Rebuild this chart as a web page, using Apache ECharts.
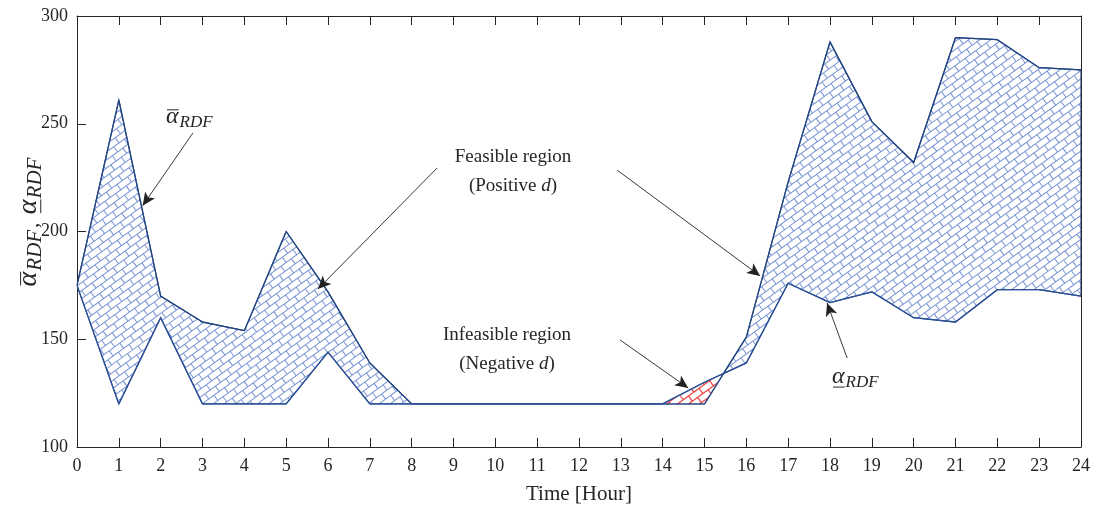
<!DOCTYPE html>
<html>
<head>
<meta charset="utf-8">
<script src="https://cdn.jsdelivr.net/npm/echarts@6/dist/echarts.min.js"></script>
<style>
  html, body { margin: 0; padding: 0; background: #fff; }
  #chart { width: 1097px; height: 515px; }
</style>
</head>
<body>
<div id="chart"></div>
<script>
// data
const hours = [0, 1, 2, 3, 4, 5, 6, 7, 8, 9, 10, 11, 12, 13, 14, 15, 16, 17, 18, 19, 20, 21, 22, 23, 24]
const upperVals = [175, 261, 170, 158, 154, 200, 172, 139, 120, 120, 120, 120, 120, 120, 120, 120, 151, 223, 288, 251, 232, 290, 289, 276, 275]
const lowerVals = [175, 120, 160, 120, 120, 120, 144, 120, 120, 120, 120, 120, 120, 120, 120, 130, 139, 176, 167, 172, 160, 158, 173, 173, 170]
const yTicks = [100, 150, 200, 250, 300]

const FONT = 'Liberation Serif'
const INK = '#262626'

// brick hatch, drawn once over the whole canvas
function makePattern(color, width) {
  const c = document.createElement('canvas')
  c.width = 1097
  c.height = 515
  const ctx = c.getContext('2d')
  ctx.fillStyle = '#fff'
  ctx.fillRect(0, 0, c.width, c.height)
  ctx.strokeStyle = color
  ctx.lineWidth = width
  ctx.translate(548, 257)
  ctx.rotate(-36 * Math.PI / 180)
  const h = 6.5, L = 13, R = 800
  ctx.beginPath()
  for (let r = -Math.ceil(R / h); r <= Math.ceil(R / h); r++) {
    const y = r * h
    ctx.moveTo(-R, y)
    ctx.lineTo(R, y)
    const off = (((r % 2) + 2) % 2) ? L / 2 : 0
    for (let x = -R + off; x < R; x += L) {
      ctx.moveTo(x, y)
      ctx.lineTo(x, y + h)
    }
  }
  ctx.stroke()
  return c
}
const bluePattern = { image: makePattern('#7792d4', 1), repeat: 'repeat' }
const redPattern = { image: makePattern('#f03c3c', 1.2), repeat: 'repeat' }

// runs where lower > upper (infeasible)
function infeasibleRuns() {
  const runs = []
  let run = null
  const lerp = (a, b, f) => a + (b - a) * f
  for (let i = 0; i < hours.length - 1; i++) {
    const d0 = upperVals[i] - lowerVals[i]
    const d1 = upperVals[i + 1] - lowerVals[i + 1]
    if (!(d0 < 0 || d1 < 0)) continue
    if (d0 >= 0) {
      const f = d0 / (d0 - d1)
      run = [{ x: lerp(hours[i], hours[i + 1], f), u: lerp(upperVals[i], upperVals[i + 1], f), l: lerp(lowerVals[i], lowerVals[i + 1], f) }]
    }
    if (d1 >= 0) {
      const f = d0 / (d0 - d1)
      run.push({ x: lerp(hours[i], hours[i + 1], f), u: lerp(upperVals[i], upperVals[i + 1], f), l: lerp(lowerVals[i], lowerVals[i + 1], f) })
      runs.push(run)
      run = null
    } else {
      run.push({ x: hours[i + 1], u: upperVals[i + 1], l: lowerVals[i + 1] })
    }
  }
  if (run) runs.push(run)
  return runs
}

function renderBand(params, api) {
  const children = []
  const pts = []
  for (let i = 0; i < hours.length; i++) pts.push(api.coord([hours[i], upperVals[i]]))
  for (let i = hours.length - 1; i >= 0; i--) pts.push(api.coord([hours[i], lowerVals[i]]))
  children.push({
    type: 'polygon',
    shape: { points: pts },
    style: { fill: bluePattern, stroke: '#2b5096', lineWidth: 1.2 }
  })
  infeasibleRuns().forEach(run => {
    const p = run.map(d => api.coord([d.x, d.u]))
    for (let k = run.length - 1; k >= 0; k--) p.push(api.coord([run[k].x, run[k].l]))
    children.push({ type: 'polygon', shape: { points: p }, style: { fill: redPattern, stroke: null } })
  })
  return { type: 'group', children }
}

// alpha with bar / underbar and RDF subscript
const measure = document.createElement('canvas').getContext('2d')
function textWidth(str, font) {
  measure.font = font
  return measure.measureText(str).width
}
function alphaParts(x, y, size, subSize, mark) {
  const fa = 'italic ' + size + 'px "' + FONT + '"'
  const fs = 'italic ' + subSize + 'px "' + FONT + '"'
  const wA = textWidth('α', fa)
  const wS = textWidth('RDF', fs)
  const parts = [
    { type: 'text', x: x, y: y, style: { text: 'α', font: fa, fill: INK, align: 'left', verticalAlign: 'middle' } },
    { type: 'text', x: x + wA + 1, y: y + size * 0.22, style: { text: 'RDF', font: fs, fill: INK, align: 'left', verticalAlign: 'middle' } }
  ]
  const ly = mark === 'bar' ? y - size * 0.3 : y + size * 0.42
  parts.push({ type: 'line', shape: { x1: x + 1, y1: ly, x2: x + wA, y2: ly }, style: { stroke: INK, lineWidth: 1 } })
  return { parts, width: wA + 1 + wS }
}

function yNameGroup() {
  const size = 28, sub = 21
  const a1 = alphaParts(0, 0, size, sub, 'bar')
  const cf = sub + 'px "' + FONT + '"'
  const comma = textWidth(',  ', cf)
  const a2 = alphaParts(a1.width + comma, 0, size, sub, 'under')
  const total = a1.width + comma + a2.width
  const children = [].concat(a1.parts, [
    { type: 'text', x: a1.width + 2, y: 3, style: { text: ',', font: cf, fill: INK, align: 'left', verticalAlign: 'middle' } }
  ], a2.parts)
  children.forEach(c => {
    if (c.type === 'line') { c.shape.x1 -= total / 2; c.shape.x2 -= total / 2 } else c.x -= total / 2
  })
  return { type: 'group', x: 29, y: 222, rotation: Math.PI / 2, children }
}

const chart = echarts.init(document.getElementById('chart'))

const axisCommon = {
  type: 'value',
  splitLine: { show: false },
  axisLine: { show: true, onZero: false, lineStyle: { color: INK, width: 1 } },
  axisTick: { show: true, inside: true, length: 9, lineStyle: { color: INK, width: 1 } },
  axisLabel: { color: INK, fontFamily: FONT, fontSize: 18 }
}

const label1 = alphaParts(166, 117, 24, 17, 'bar')
const label2 = alphaParts(832, 377, 24, 17, 'under')

const option = {
  animation: false,
  backgroundColor: '#fff',
  grid: { left: 77, right: 16, top: 16, bottom: 68 },
  xAxis: [
    Object.assign({}, axisCommon, {
      min: 0, max: 24, interval: 1, position: 'bottom',
      axisLabel: Object.assign({}, axisCommon.axisLabel, { margin: 10 }),
      name: 'Time [Hour]', nameLocation: 'middle', nameGap: 37,
      nameTextStyle: { color: INK, fontFamily: FONT, fontSize: 21 }
    }),
    Object.assign({}, axisCommon, {
      min: 0, max: 24, interval: 1, position: 'top',
      axisLabel: { show: false }
    })
  ],
  yAxis: [
    Object.assign({}, axisCommon, {
      min: yTicks[0], max: yTicks[yTicks.length - 1], interval: 50, position: 'left',
      axisLabel: Object.assign({}, axisCommon.axisLabel, { margin: 9 })
    }),
    Object.assign({}, axisCommon, {
      min: yTicks[0], max: yTicks[yTicks.length - 1], interval: 50, position: 'right',
      axisTick: { show: false }, axisLabel: { show: false }
    })
  ],
  series: [
    {
      type: 'custom',
      coordinateSystem: 'cartesian2d',
      renderItem: renderBand,
      data: [[0, 100]],
      silent: true,
      clip: true,
      z: 1
    },
    {
      name: 'upper',
      type: 'line',
      data: hours.map((h, i) => [h, upperVals[i]]),
      symbol: 'none',
      lineStyle: { color: '#23467f', width: 1.3 },
      z: 3,
      markLine: {
        silent: true,
        symbol: ['none', 'arrow'],
        symbolSize: [9, 13],
        label: { show: false },
        lineStyle: { type: 'solid', color: '#222', width: 0.9 },
        data: [
          [{ coord: [2.77, 245.7] }, { coord: [1.57, 212] }],
          [{ coord: [8.61, 229.5] }, { coord: [5.76, 173.3] }],
          [{ coord: [12.91, 228.5] }, { coord: [16.33, 179.4] }],
          [{ coord: [12.98, 149.7] }, { coord: [14.61, 127.4] }],
          [{ coord: [18.41, 141.3] }, { coord: [17.93, 166.8] }]
        ]
      }
    },
    {
      name: 'lower',
      type: 'line',
      data: hours.map((h, i) => [h, lowerVals[i]]),
      symbol: 'none',
      lineStyle: { color: '#2b5096', width: 1.3 },
      z: 3
    }
  ],
  graphic: [
    yNameGroup(),
    { type: 'group', children: label1.parts },
    { type: 'group', children: label2.parts },
    { type: 'text', x: 513, y: 157, style: { text: 'Feasible region', font: '19px "' + FONT + '"', fill: INK, align: 'center', verticalAlign: 'middle' } },
    { type: 'text', x: 513, y: 186, style: { text: '{n|(Positive }{i|d}{n|)}', rich: { n: { font: '19px "' + FONT + '"', fill: INK }, i: { font: 'italic 19px "' + FONT + '"', fill: INK } }, align: 'center', verticalAlign: 'middle' } },
    { type: 'text', x: 507, y: 335, style: { text: 'Infeasible region', font: '19px "' + FONT + '"', fill: INK, align: 'center', verticalAlign: 'middle' } },
    { type: 'text', x: 507, y: 364, style: { text: '{n|(Negative }{i|d}{n|)}', rich: { n: { font: '19px "' + FONT + '"', fill: INK }, i: { font: 'italic 19px "' + FONT + '"', fill: INK } }, align: 'center', verticalAlign: 'middle' } }
  ]
}

chart.setOption(option)
</script>
</body>
</html>
